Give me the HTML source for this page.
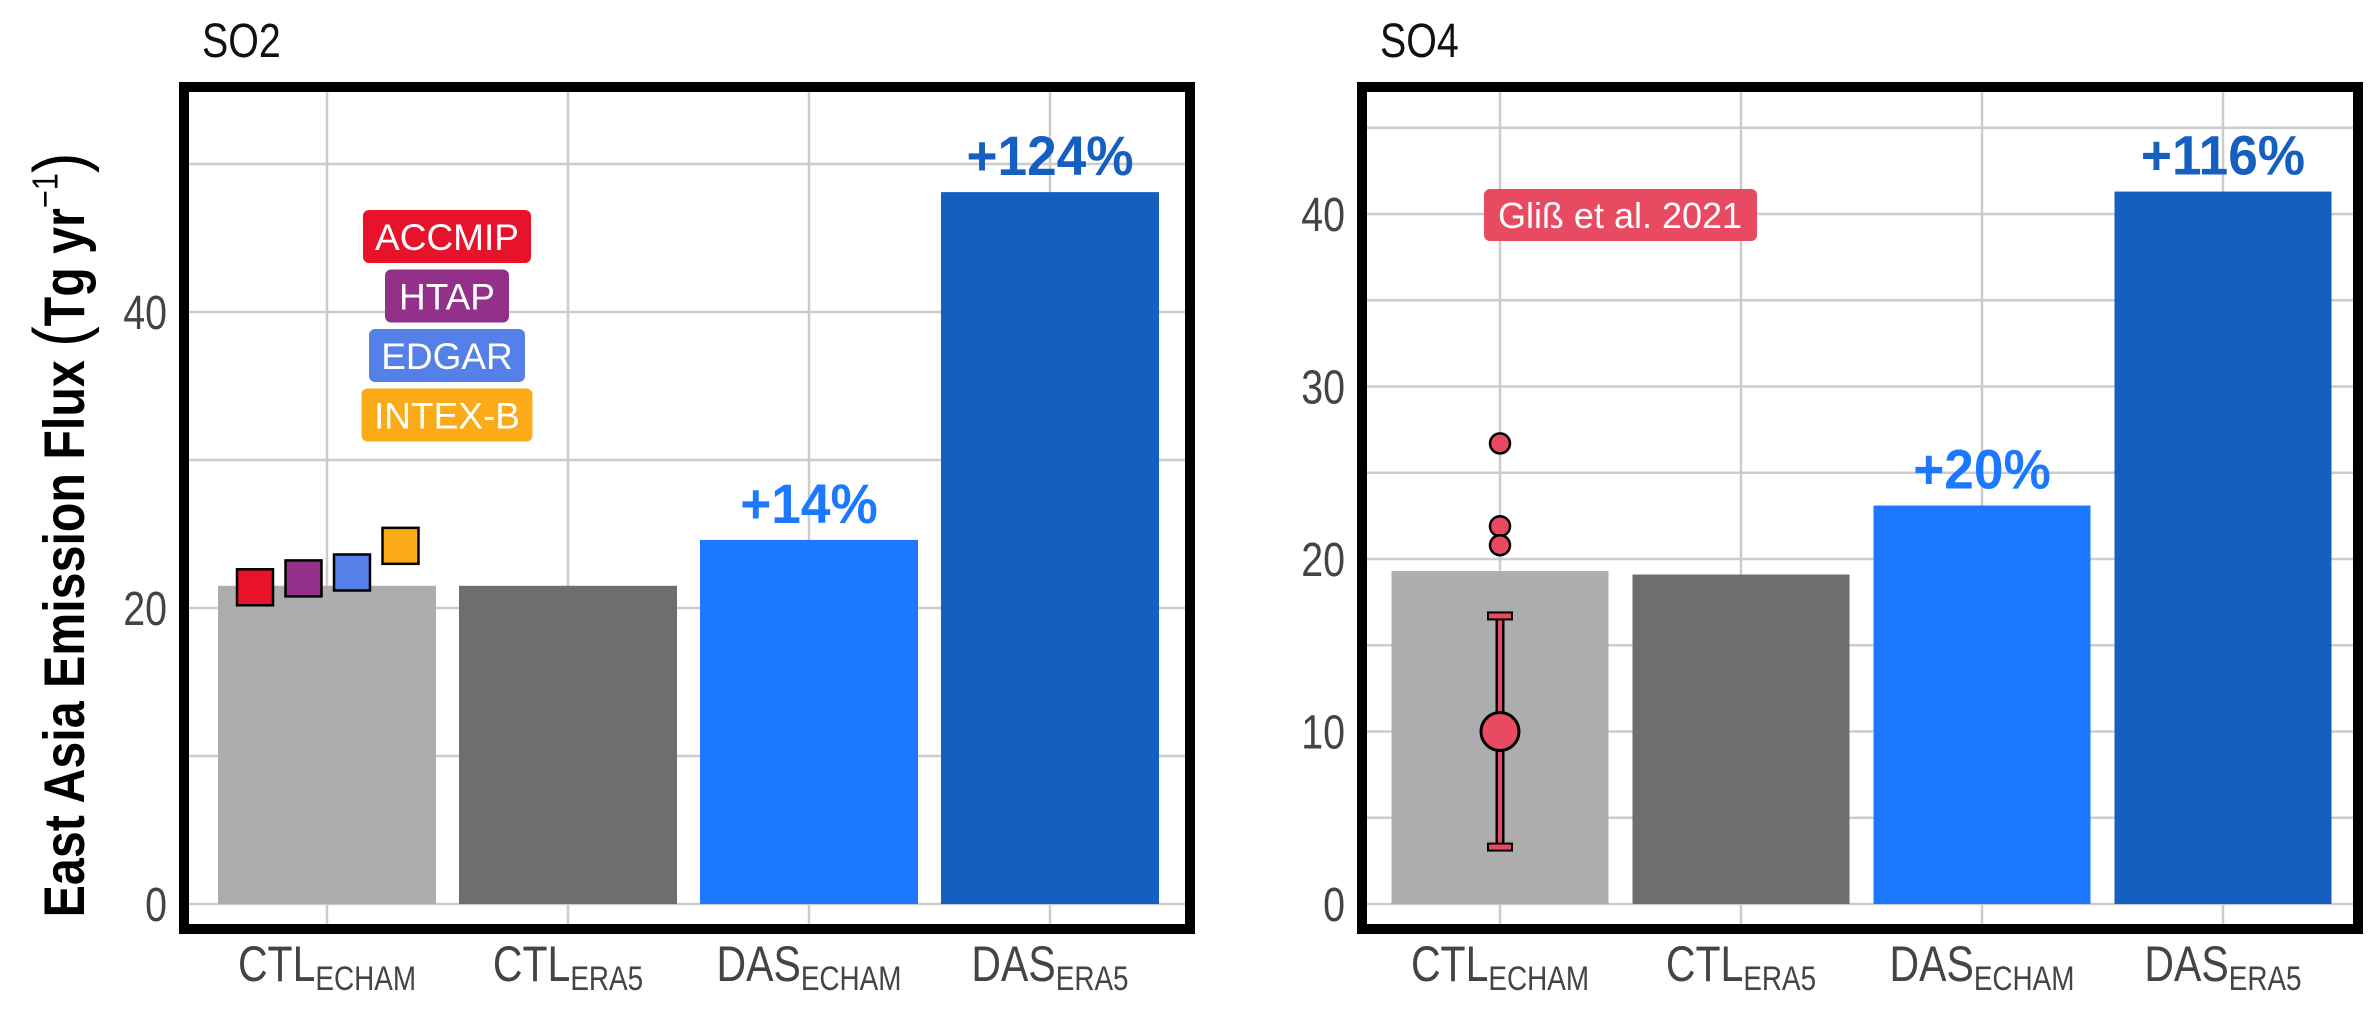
<!DOCTYPE html>
<html><head><meta charset="utf-8"><style>
html,body{margin:0;padding:0;background:#fff;}
svg{display:block;}
text{font-family:"Liberation Sans",sans-serif;}
</style></head><body>
<svg id="chart" xmlns="http://www.w3.org/2000/svg" width="2371" height="1010" viewBox="0 0 2371 1010">
<g id="g-left"></g>
<g id="g-right"></g>
<text transform="translate(84,535) rotate(-90) scale(0.93,1.1)" text-anchor="middle" style="font-family:'Liberation Sans',sans-serif;font-weight:bold;font-size:52px;fill:#000">East Asia Emission Flux <tspan style="font-size:66px;font-weight:normal">(</tspan>Tg yr<tspan dy="-24" style="font-size:33px;font-weight:normal">−1</tspan><tspan dy="24" style="font-size:66px;font-weight:normal">)</tspan></text>
</svg>
<script>
const categories = ["CTL","CTL","DAS","DAS"];
const subs = ["ECHAM","ERA5","ECHAM","ERA5"];
const so2Values = [21.5, 21.5, 24.6, 48.1];
const so4Values = [19.3, 19.1, 23.1, 41.3];
const so2Pct = [null, null, "+14%", "+124%"];
const so4Pct = [null, null, "+20%", "+116%"];
const so2Ticks = [0, 20, 40];
const so4Ticks = [0, 10, 20, 30, 40];
const invNames = ["ACCMIP","HTAP","EDGAR","INTEX-B"];
const invValues = [21.4, 22.0, 22.4, 24.2];
const glissPoints = [26.7, 21.9, 20.8];
const glissMean = [10.0];
const glissErr = [3.3, 16.7];

const NS = "http://www.w3.org/2000/svg";
const barColors = ["#adadad","#6e6e6e","#1c79ff","#155fc0"];
const pctColors = [null,null,"#1c79ff","#155fc0"];
function mk(parent, tag, attrs, txt){
  const e = document.createElementNS(NS, tag);
  for (const k in attrs) e.setAttribute(k, attrs[k]);
  if (txt !== undefined) e.textContent = txt;
  parent.appendChild(e); return e;
}
function narrow(x, s){ return `translate(${x},0) scale(${s||0.82},1) translate(${-x},0)`; }
function panel(g, cfg){
  const y = v => cfg.y0 - v * cfg.ppu;
  const x = i => cfg.c0 + i * cfg.step;
  for (let v = 0; v <= cfg.gmax; v += cfg.gstep){
    const l = mk(g,'line',{x1:cfg.L,x2:cfg.R,y1:y(v),y2:y(v),stroke:'#cccccc','stroke-width':2.5});
    
    
  }
  categories.forEach((c,i)=>{
    const l = mk(g,'line',{x1:x(i),x2:x(i),y1:cfg.T,y2:cfg.B,stroke:'#cccccc','stroke-width':2.5});
    
    
  });
  cfg.values.forEach((v,i)=>{
    const r = mk(g,'rect',{x:x(i)-cfg.bw/2,y:y(v),width:cfg.bw,height:y(0)-y(v),fill:barColors[i]});
    
    
    if (cfg.pct[i]){
      const t = mk(g,'text',{x:x(i),y:y(v)-17,'text-anchor':'middle','font-weight':'bold','font-size':56,fill:pctColors[i],transform:narrow(x(i),0.95)},cfg.pct[i]);
      
      
    }
    const t = mk(g,'text',{x:x(i),y:981,'text-anchor':'middle','font-size':50,fill:'#444',transform:narrow(x(i))});
    
    
    mk(t,'tspan',{},categories[i]);
    mk(t,'tspan',{dy:9,'font-size':34},subs[i]);
  });
  cfg.ticks.forEach(v=>{
    const t = mk(g,'text',{x:cfg.L-17,y:y(v)+17,'text-anchor':'end','font-size':48,fill:'#444',transform:narrow(cfg.L-17)},String(v));
    
    
  });
  const t = mk(g,'text',{x:cfg.L+18,y:57,'font-size':48,fill:'#111',transform:narrow(cfg.L+18)},cfg.title);
  
  
  cfg.extra(g, x, y);
  const f = mk(g,'rect',{x:cfg.L,y:cfg.T,width:cfg.R-cfg.L,height:cfg.B-cfg.T,fill:'none',stroke:'#000','stroke-width':10});
  
  
}
const invColors = ["#e8132a","#93308a","#5580e8","#fbab17"];
const invBoxW = [168,124,156,171];
panel(document.getElementById('g-left'),{
  L:184,R:1190,T:87,B:929,y0:904,ppu:14.8,c0:327,step:241,bw:218,
  gmax:50,gstep:10,values:so2Values,pct:so2Pct,ticks:so2Ticks,title:'SO2',
  extra:(g,x,y)=>{
    invValues.forEach((v,i)=>{
      const s = mk(g,'rect',{x:x(0)-72+i*48.5-18,y:y(v)-18,width:36,height:36,fill:invColors[i],stroke:'#000','stroke-width':2.5});
      
      
      const cy = 237 + i*59.5;
      const b = mk(g,'rect',{x:447-invBoxW[i]/2,y:cy-27,width:invBoxW[i],height:53,rx:6,fill:invColors[i]});
      
      
      const t = mk(g,'text',{x:447,y:cy+13,'text-anchor':'middle','font-size':37,fill:'#fff'},invNames[i]);
      
      
    });
  }
});
panel(document.getElementById('g-right'),{
  L:1362,R:2358,T:87,B:929,y0:904,ppu:17.25,c0:1500,step:241,bw:217,
  gmax:45,gstep:5,values:so4Values,pct:so4Pct,ticks:so4Ticks,title:'SO4',
  extra:(g,x,y)=>{
    const cx = x(0), col = '#e84a62';
    const e1 = mk(g,'line',{x1:cx,x2:cx,y1:y(glissErr[0]),y2:y(glissErr[1]),stroke:'#000','stroke-width':9});
    
    
    mk(g,'line',{x1:cx,x2:cx,y1:y(glissErr[0]),y2:y(glissErr[1]),stroke:col,'stroke-width':4});
    glissErr.forEach(v=>{
      const c = mk(g,'rect',{x:cx-12,y:y(v)-3.5,width:24,height:7,fill:col,stroke:'#000','stroke-width':2});
      
      
    });
    glissMean.forEach(v=>{
      const c = mk(g,'circle',{cx:cx,cy:y(v),r:19,fill:col,stroke:'#000','stroke-width':3});
      
      
    });
    glissPoints.forEach(v=>{
      const c = mk(g,'circle',{cx:cx,cy:y(v),r:10,fill:col,stroke:'#000','stroke-width':2.5});
      
      
    });
    const b = mk(g,'rect',{x:1484,y:189,width:273,height:52,rx:6,fill:col});
    
    
    const t = mk(g,'text',{x:1620,y:228,'text-anchor':'middle','font-size':36,fill:'#fff'},'Gliß et al. 2021');
    
    
  }
});
</script>
</body></html>
